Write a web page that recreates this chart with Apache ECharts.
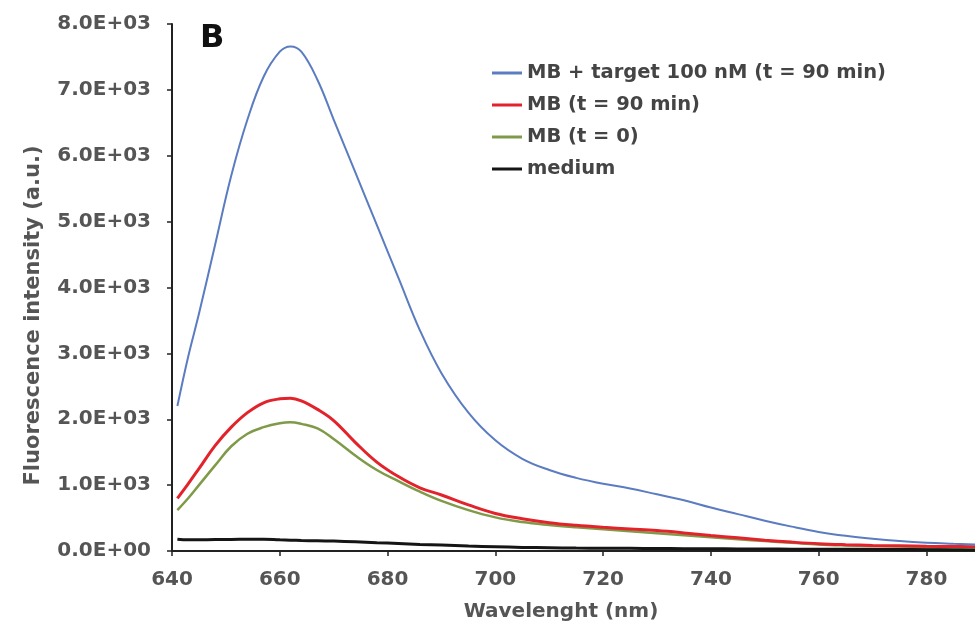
<!DOCTYPE html>
<html>
<head>
<meta charset="utf-8">
<script src="https://cdn.jsdelivr.net/npm/echarts@6/dist/echarts.min.js"></script>
<style>
html,body{margin:0;padding:0;background:#fff;}
#chart{width:975px;height:628px;}
</style>
</head>
<body>
<div id="chart"></div>
<script>
var wavelengths = [641,643,645,648,651,654,657,660,662,664,667,670,674,678,682,686,690,695,700,705,710,715,720,725,730,735,740,745,750,755,760,765,770,775,780,785,789];
var mbTarget = [2200,2950,3600,4650,5700,6550,7200,7580,7660,7580,7150,6550,5750,4950,4150,3350,2700,2100,1680,1400,1230,1110,1020,950,860,770,660,560,460,370,290,230,185,150,125,110,100];
var mb90 = [800,1020,1250,1600,1880,2100,2250,2310,2320,2280,2150,1980,1650,1350,1130,960,850,700,570,490,430,390,360,335,310,275,235,200,165,135,110,95,85,78,72,68,65];
var mb0 = [620,800,1000,1300,1590,1780,1880,1940,1955,1930,1860,1700,1450,1230,1060,900,760,620,510,440,395,360,330,300,270,240,210,180,150,125,100,85,75,68,62,58,55];
var medium = [180,170,170,175,175,180,180,170,165,160,155,150,140,125,115,100,90,75,65,55,50,45,42,40,38,36,34,32,30,28,27,26,25,24,23,22,22];
var seriesNames = ['MB + target 100 nM (t = 90 min)','MB (t = 90 min)','MB (t = 0)','medium'];
var yTickLabels = ['0.0E+00','1.0E+03','2.0E+03','3.0E+03','4.0E+03','5.0E+03','6.0E+03','7.0E+03','8.0E+03'];
var xTickLabels = ['640','660','680','700','720','740','760','780'];

function pairs(ys){ return wavelengths.map(function(x,i){ return [x, ys[i]]; }); }

var font = 'DejaVu Sans';
var chart = echarts.init(document.getElementById('chart'));
var colors = ['#5b7cc0','#e3232b','#7f9a48','#151515'];
var widths = [2,3,2.5,3];
var datas = [mbTarget, mb90, mb0, medium];
chart.setOption({
  animation:false,
  backgroundColor:'#fff',
  title:{text:'B', left:195, top:18, textStyle:{fontFamily:font, fontSize:32, fontWeight:'bold', color:'#111'}},
  legend:{
    orient:'vertical', left:487, top:58, itemGap:12,
    icon:'rect', itemWidth:30, itemHeight:3,
    data:seriesNames,
    textStyle:{fontFamily:font, fontSize:19.5, fontWeight:'bold', color:'#444', lineHeight:20}
  },
  grid:{left:172, right:0, top:24, bottom:77, containLabel:false},
  xAxis:{
    type:'value', min:640, max:789, interval:20,
    name:'Wavelenght (nm)', nameLocation:'middle', nameGap:51,
    nameTextStyle:{fontFamily:font, fontSize:20, fontWeight:'bold', color:'#555', padding:[0,25,0,0]},
    axisLine:{lineStyle:{color:'#222', width:2}},
    axisTick:{show:true, length:5, lineStyle:{color:'#222', width:1.5}},
    axisLabel:{showMaxLabel:false, margin:19, fontFamily:font, fontSize:20, fontWeight:'bold', color:'#555',
      formatter:function(v){ var i=Math.round((v-640)/20); return xTickLabels[i]!==undefined && (v-640)%20===0 ? xTickLabels[i] : ''; }},
    splitLine:{show:false}
  },
  yAxis:{
    type:'value', min:0, max:8000, interval:1000,
    name:'Fluorescence intensity (a.u.)', nameLocation:'middle', nameGap:128, nameRotate:90,
    nameTextStyle:{fontFamily:font, fontSize:21, fontWeight:'bold', color:'#555', padding:[0,56,0,0]},
    axisLine:{show:true, lineStyle:{color:'#222', width:2}},
    axisTick:{show:true, length:5, lineStyle:{color:'#222', width:1.5}},
    axisLabel:{margin:21, fontFamily:font, fontSize:20, fontWeight:'bold', color:'#555',
      formatter:function(v){ return yTickLabels[Math.round(v/1000)]; }},
    splitLine:{show:false}
  },
  series: seriesNames.map(function(n,i){
    return {name:n, type:'line', data:pairs(datas[i]), smooth:0.4, symbol:'none',
      lineStyle:{color:colors[i], width:widths[i]}, itemStyle:{color:colors[i]}, z: 10-i};
  })
});
</script>
</body>
</html>
